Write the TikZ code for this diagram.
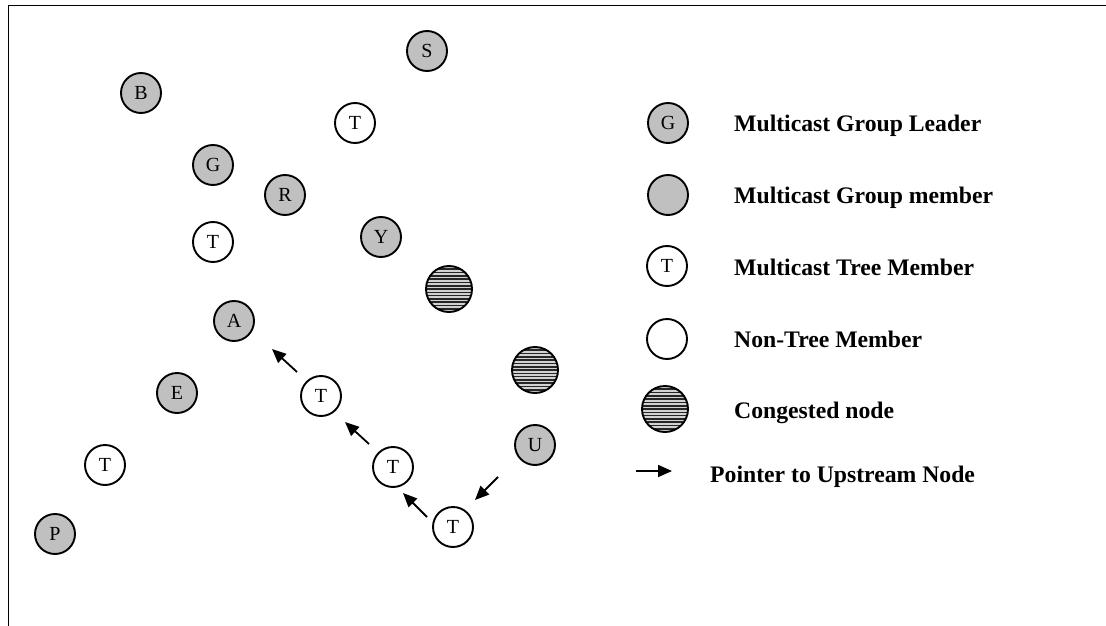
\documentclass[tikz,border=0pt]{standalone}
\usepackage{fontspec}
\setmainfont{Liberation Serif}
\usetikzlibrary{arrows.meta}
\definecolor{member}{RGB}{192,192,192}
\definecolor{stripebg}{RGB}{210,210,210}
\tikzset{
  nd/.style={circle, draw=black, line width=1.9pt, minimum size=40pt,
    inner sep=0pt, font=\fontsize{20}{20}\selectfont},
  grp/.style={nd, fill=member},
  tre/.style={nd, fill=white},
  cong/.style={nd, minimum size=46pt, fill=stripebg,
    path picture={
      \foreach \k in {-8,...,8}
        \draw[line width=1.6pt, black!85]
          ([yshift=\k*3.3pt]path picture bounding box.west) --
          ([yshift=\k*3.3pt]path picture bounding box.east);
    }},
  ptr/.style={-{Triangle[length=14pt,width=12pt]}, line width=1.8pt},
  lab/.style={anchor=base west, inner sep=0pt,
    font=\fontsize{23.7}{24}\bfseries\selectfont},
  frame/.style={line width=1.9pt}
}
\begin{document}
\begin{tikzpicture}[x=1pt,y=-1pt]
\useasboundingbox (0,0) rectangle (1106,626);
% outer frame (left and top edges)
\draw[frame] (8.5,626) -- (8.5,5.5) -- (1106,5.5);

% network nodes
\node[grp] (S)  at (427,51)  {S};
\node[grp] (B)  at (141,93)  {B};
\node[tre] (T0) at (355,123) {T};
\node[grp] (G)  at (213,165) {G};
\node[grp] (R)  at (285,195) {R};
\node[tre] (T5) at (213,242) {T};
\node[grp] (Y)  at (381,237) {Y};
\node[cong] (C1) at (449,289) {};
\node[grp] (A)  at (234,321) {A};
\node[cong] (C2) at (535,370) {};
\node[grp] (E)  at (177,393) {E};
\node[tre] (T1) at (321,396) {T};
\node[grp] (U)  at (535,445) {U};
\node[tre] (T4) at (105,465) {T};
\node[tre] (T2) at (393,467) {T};
\node[grp] (P)  at (55,534)  {P};
\node[tre] (T3) at (453,527) {T};

% pointers to upstream nodes
\draw[ptr] ([shift={(-24,-24)}]T1.center) -- ([shift={(38,28)}]A.center);
\draw[ptr] ([shift={(-24,-23)}]T2.center) -- ([shift={(24,26)}]T1.center);
\draw[ptr] ([shift={(-26,-10)}]T3.center) -- ([shift={(10,26)}]T2.center);
\draw[ptr] ([shift={(-37,32)}]U.center) -- ([shift={(22,-27)}]T3.center);

% legend
\node[grp]  (lgG) at (668,123) {G};
\node[grp]  (lgM) at (668,195) {};
\node[tre]  (lgT) at (667,266) {T};
\node[tre]  (lgN) at (667,339) {};
\node[cong] (lgC) at (665,409) {};
\coordinate (lgA0) at (636,471);
\coordinate (lgA1) at (672,471);
\draw[ptr] (lgA0) -- (lgA1);

\node[lab] (tG) at (734,131) {Multicast Group Leader};
\node[lab] (tM) at (734,203) {Multicast Group member};
\node[lab] (tT) at (734,275) {Multicast Tree Member};
\node[lab] (tN) at (734,347) {Non-Tree Member};
\node[lab] (tC) at (734,418) {Congested node};
\node[lab] (tA) at (710,482) {Pointer to Upstream Node};
\end{tikzpicture}
\end{document}
